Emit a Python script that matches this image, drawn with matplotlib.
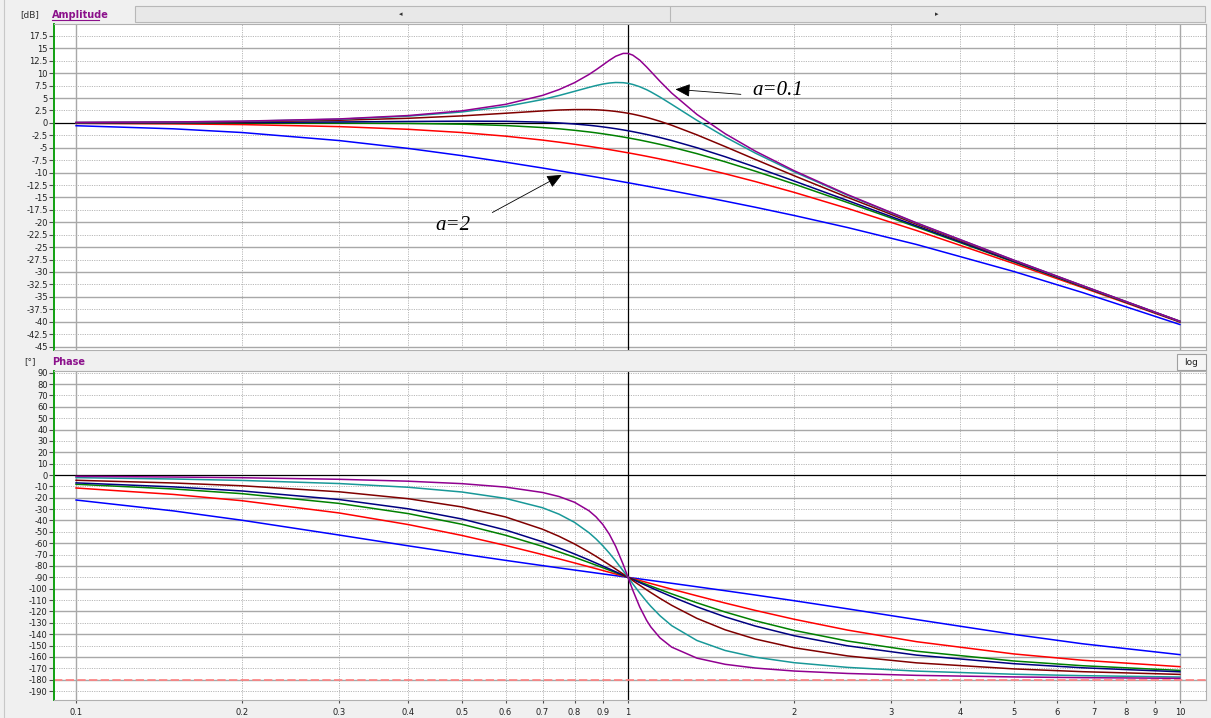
import matplotlib
matplotlib.use("Agg")
import matplotlib.pyplot as plt
import numpy as np
from matplotlib.lines import Line2D
from matplotlib.patches import Rectangle

# frequencies (normalised, w / w0)
freq = [0.1, 0.15, 0.2, 0.3, 0.4, 0.5, 0.6, 0.7, 0.75, 0.8,
        0.85, 0.875, 0.9, 0.925, 0.95, 0.98, 1.0, 1.02, 1.05, 1.0811,
        1.1, 1.1429, 1.2, 1.3333, 1.5, 1.7, 2.0, 2.5, 3.333, 5.0,
        6.667, 10.0]

# amplitude [dB], one list per damping value a
amp_a01 = [0.09, 0.19, 0.35, 0.80, 1.48, 2.42, 3.73, 5.53, 6.70, 8.09,
           9.75, 10.68, 11.64, 12.59, 13.41, 13.98, 13.98, 13.64, 12.63, 11.24,
           10.34, 8.36, 6.00, 1.70, -2.18, -5.67, -9.62, -14.44, -20.12, -27.61,
           -32.76, -39.91]
amp_a02 = [0.08, 0.18, 0.32, 0.74, 1.36, 2.20, 3.30, 4.70, 5.51, 6.35,
           7.15, 7.51, 7.81, 8.02, 8.13, 8.09, 7.96, 7.74, 7.28, 6.67,
           6.24, 5.19, 3.73, 0.51, -2.84, -6.06, -9.84, -14.56, -20.17, -27.63,
           -32.78, -39.92]
amp_a04 = [0.06, 0.13, 0.24, 0.53, 0.93, 1.41, 1.94, 2.41, 2.59, 2.68,
           2.68, 2.64, 2.56, 2.45, 2.31, 2.10, 1.94, 1.76, 1.45, 1.10,
           0.87, 0.32, -0.47, -2.41, -4.77, -7.34, -10.63, -14.99, -20.39, -27.72,
           -32.82, -39.94]
amp_a06 = [0.02, 0.05, 0.09, 0.19, 0.29, 0.35, 0.32, 0.15, -0.01, -0.22,
           -0.48, -0.63, -0.80, -0.98, -1.17, -1.41, -1.58, -1.76, -2.04, -2.33,
           -2.52, -2.95, -3.55, -5.00, -6.81, -8.88, -11.69, -15.63, -20.73, -27.87,
           -32.90, -39.98]
amp_a07 = [0.00, 0.00, -0.01, -0.04, -0.11, -0.26, -0.53, -0.93, -1.19, -1.49,
           -1.82, -2.00, -2.19, -2.39, -2.59, -2.84, -3.01, -3.19, -3.45, -3.74,
           -3.92, -4.32, -4.88, -6.19, -7.83, -9.71, -12.30, -16.03, -20.95, -27.97,
           -32.96, -40.00]
amp_a1 = [-0.09, -0.19, -0.34, -0.75, -1.29, -1.94, -2.67, -3.46, -3.88, -4.30,
          -4.72, -4.94, -5.15, -5.37, -5.59, -5.85, -6.02, -6.19, -6.45, -6.72,
          -6.89, -7.26, -7.75, -8.87, -10.24, -11.80, -13.98, -17.21, -21.66, -28.30,
          -33.15, -40.09]
amp_a2 = [-0.57, -1.19, -1.94, -3.56, -5.14, -6.59, -7.90, -9.08, -9.63, -10.16,
          -10.66, -10.90, -11.14, -11.37, -11.60, -11.87, -12.04, -12.21, -12.47, -12.72,
          -12.88, -13.22, -13.66, -14.63, -15.75, -16.97, -18.63, -21.06, -24.47, -29.90,
          -34.15, -40.57]

# phase [deg]
ph_a01 = [-1.16, -1.76, -2.39, -3.77, -5.44, -7.59, -10.62, -15.35, -18.92, -23.96,
          -31.49, -36.75, -43.45, -52.03, -62.84, -78.58, -90.0, -101.20, -116.02, -127.97,
          -133.67, -143.25, -151.39, -161.08, -166.50, -169.80, -172.41, -174.56, -176.23, -177.61,
          -178.24, -178.84]
ph_a02 = [-2.31, -3.51, -4.76, -7.51, -10.78, -14.93, -20.56, -28.77, -34.44, -41.63,
          -50.78, -56.19, -62.18, -68.68, -75.61, -84.23, -90.0, -95.66, -103.72, -111.32,
          -115.51, -123.81, -132.51, -145.56, -154.36, -160.21, -165.07, -169.22, -172.49, -175.24,
          -176.49, -177.69]
ph_a04 = [-4.62, -7.00, -9.46, -14.77, -20.85, -28.07, -36.87, -47.68, -53.90, -60.64,
          -67.80, -71.49, -75.22, -78.96, -82.69, -87.11, -90.0, -92.83, -96.96, -101.04,
          -103.42, -108.51, -114.62, -126.10, -136.17, -144.26, -151.93, -159.15, -165.23, -170.54,
          -173.00, -175.38]
ph_a06 = [-6.91, -10.43, -14.04, -21.58, -29.74, -38.66, -48.37, -58.74, -64.07, -69.44,
          -74.78, -77.42, -80.02, -82.59, -85.11, -88.07, -90.0, -91.89, -94.65, -97.41,
          -99.04, -102.58, -106.99, -115.93, -124.78, -132.81, -141.34, -150.26, -158.42, -165.96,
          -169.57, -173.09]
ph_a07 = [-8.13, -12.24, -16.42, -25.00, -33.96, -43.31, -52.97, -62.74, -67.59, -72.35,
          -77.00, -79.28, -81.51, -83.70, -85.85, -88.36, -90.0, -91.60, -93.95, -96.30,
          -97.69, -100.72, -104.54, -112.41, -120.51, -128.17, -136.69, -146.04, -155.00, -163.58,
          -167.76, -171.87]
ph_a1 = [-11.42, -17.06, -22.62, -33.40, -43.60, -53.13, -61.93, -69.98, -73.74, -77.32,
         -80.73, -82.37, -83.97, -85.54, -87.06, -88.84, -90.0, -91.13, -92.80, -94.46,
         -95.45, -97.63, -100.39, -106.26, -112.62, -119.07, -126.87, -136.40, -146.60, -157.38,
         -162.94, -168.58]
ph_a2 = [-22.00, -31.54, -39.81, -52.84, -62.30, -69.44, -75.07, -79.68, -81.70, -83.58,
         -85.33, -86.17, -86.98, -87.77, -88.53, -89.42, -90.0, -90.57, -91.40, -92.23,
         -92.73, -93.83, -95.24, -98.30, -101.77, -105.53, -110.56, -117.70, -127.16, -140.19,
         -148.46, -158.00]

# drawing order: blue first, purple last (on top)
amps = [amp_a2, amp_a1, amp_a07, amp_a06, amp_a04, amp_a02, amp_a01]
phases = [ph_a2, ph_a1, ph_a07, ph_a06, ph_a04, ph_a02, ph_a01]
colors = ['#0000ff', '#ff0000', '#008000', '#000080', '#800000', '#189898', '#900090']

xticks = [0.1, 0.2, 0.3, 0.4, 0.5, 0.6, 0.7, 0.8, 0.9, 1, 2, 3, 4, 5, 6, 7, 8, 9, 10]
xlabels = ['0.1', '0.2', '0.3', '0.4', '0.5', '0.6', '0.7', '0.8', '0.9',
           '1', '2', '3', '4', '5', '6', '7', '8', '9', '10']
amp_ticks = np.arange(-45, 17.6, 2.5)
ph_ticks = np.arange(-190, 91, 10)

W, H = 1211, 718
BG = '#f0f0f0'
PURPLE = '#8b108b'


def fx(px):
    return px / W


def fy(py):
    return 1 - py / H


fig = plt.figure(figsize=(W / 100, H / 100), dpi=100, facecolor=BG)

ax1 = fig.add_axes([fx(54), fy(350), (1206 - 54) / W, (350 - 24) / H])
ax2 = fig.add_axes([fx(54), fy(700), (1206 - 54) / W, (700 - 371) / H])


def style_axes(ax, yticks, ylim, solid_step):
    ax.set_xscale('log')
    ax.set_xlim(0.0912, 11.15)
    ax.set_ylim(*ylim)
    ax.set_facecolor('white')
    for t in xticks:
        if t in (0.1, 10):
            ax.axvline(t, color='#a8a8a8', lw=1.0, zorder=1)
        elif t == 1:
            ax.axvline(t, color='black', lw=0.9, zorder=1.5)
        else:
            ax.axvline(t, color='#b8b8b8', lw=0.7, ls=(0, (1.2, 1.2)), zorder=1)
    for t in yticks:
        if abs(t) < 1e-9:
            ax.axhline(0, color='black', lw=0.9, zorder=1.5)
        elif abs(t / solid_step - round(t / solid_step)) < 1e-6:
            ax.axhline(t, color='#a8a8a8', lw=1.0, zorder=1)
        else:
            ax.axhline(t, color='#b8b8b8', lw=0.7, ls=(0, (1.2, 1.2)), zorder=1)
    ax.set_yticks(yticks)
    ax.set_yticklabels(['%g' % t for t in yticks])
    ax.tick_params(axis='y', direction='out', length=3.5, width=0.8, color='#505050',
                   labelsize=6, pad=1, labelcolor='#202020')
    ax.minorticks_off()
    for side in ('top', 'right', 'bottom'):
        ax.spines[side].set_color('#b0b0b0')
        ax.spines[side].set_linewidth(0.8)
    ax.spines['left'].set_color('#10a010')
    ax.spines['left'].set_linewidth(1.4)


style_axes(ax1, amp_ticks, (-45.7, 19.9), 5)
style_axes(ax2, ph_ticks, (-197.9, 91.5), 20)

ax1.set_xticks([])
ax1.xaxis.set_minor_locator(matplotlib.ticker.NullLocator())
ax2.set_xticks(xticks)
ax2.set_xticklabels(xlabels)
ax2.xaxis.set_minor_locator(matplotlib.ticker.NullLocator())
ax2.tick_params(axis='x', direction='out', length=2.5, width=0.8, color='#505050',
                labelsize=6, pad=3, labelcolor='#202020')

for amp, ph, c in zip(amps, phases, colors):
    ax1.plot(freq, amp, color=c, lw=1.1, zorder=3)
    ax2.plot(freq, ph, color=c, lw=1.1, zorder=3)

# -180 deg reference line
ax2.axhline(-180, color='#ff8080', lw=1.2, ls=(0, (5, 2)), zorder=2)

# annotations
ax1.annotate('', xy=(1.205, 6.8), xytext=(1.62, 5.7),
             arrowprops=dict(arrowstyle='-|>,head_length=0.9,head_width=0.4',
                             color='black', lw=0.6, mutation_scale=10), zorder=5)
ax1.text(1.68, 6.6, 'a=0.1', fontsize=15, style='italic', family='Liberation Serif',
         va='center', ha='left', zorder=5)
ax1.annotate('', xy=(0.766, -10.2), xytext=(0.562, -18.3),
             arrowprops=dict(arrowstyle='-|>,head_length=0.9,head_width=0.4',
                             color='black', lw=0.6, mutation_scale=10), zorder=5)
ax1.text(0.518, -20.6, 'a=2', fontsize=15, style='italic', family='Liberation Serif',
         va='center', ha='right', zorder=5)

# header of amplitude panel
fig.text(fx(30), fy(15), '[dB]', fontsize=6.5, color='#303030', ha='center', va='center')
fig.text(fx(52), fy(15), 'Amplitude', fontsize=7, color=PURPLE, weight='bold',
         ha='left', va='center')
fig.add_artist(Line2D([fx(52), fx(99)], [fy(20), fy(20)], color=PURPLE, lw=0.8))
fig.add_artist(Rectangle((fx(135), fy(22)), (1205 - 135) / W, 16 / H,
                         transform=fig.transFigure, facecolor='#e8e8e8',
                         edgecolor='#b8b8b8', lw=0.8))
fig.add_artist(Line2D([fx(670), fx(670)], [fy(7), fy(21)], color='#b8b8b8', lw=0.8))
fig.text(fx(401), fy(14), '\u25c2', fontsize=5, color='#303030', ha='center', va='center')
fig.text(fx(937), fy(14), '\u25b8', fontsize=5, color='#303030', ha='center', va='center')

# header of phase panel
fig.text(fx(30), fy(362), '[\u00b0]', fontsize=6.5, color='#303030', ha='center', va='center')
fig.text(fx(52), fy(362), 'Phase', fontsize=7, color=PURPLE, weight='bold',
         ha='left', va='center')
fig.add_artist(Rectangle((fx(1177), fy(370)), 29 / W, 16 / H,
                         transform=fig.transFigure, facecolor='#f6f6f6',
                         edgecolor='#a0a0a0', lw=0.8))
fig.text(fx(1191.5), fy(362), 'log', fontsize=6.5, color='#202020', ha='center', va='center')

# outer frame line on the left
fig.add_artist(Line2D([fx(4), fx(4)], [0, 1], color='#c8c8c8', lw=0.8))

fig.savefig('out.png', dpi=100, facecolor=BG)
